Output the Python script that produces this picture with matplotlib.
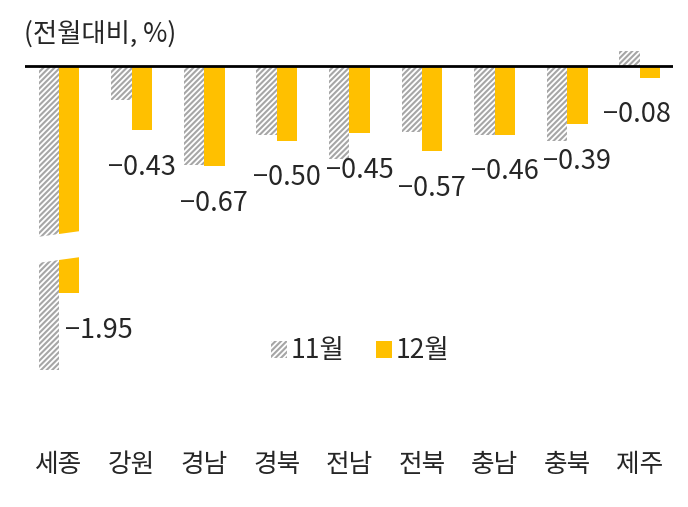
import matplotlib.pyplot as plt
from matplotlib.patches import Patch, Polygon

plt.rcParams['font.family'] = ['Noto Sans CJK KR', 'DejaVu Sans']
plt.rcParams['hatch.linewidth'] = 1.5

regions = ['세종', '강원', '경남', '경북', '전남', '전북', '충남', '충북', '제주']
nov = [-2.46, -0.23, -0.66, -0.46, -0.62, -0.44, -0.46, -0.50, 0.10]
dec = [-1.95, -0.43, -0.67, -0.50, -0.45, -0.57, -0.46, -0.39, -0.08]
series_names = ['11월', '12월']

gray = '#a6a6a6'
gold = '#ffc000'
txt = '#262626'
W, H = 688, 507

fig = plt.figure(figsize=(W / 100, H / 100), dpi=100)

# broken y axis: top part and bottom part, same scale (150 px per 1%p)
top = fig.add_axes([25 / W, 1 - 237 / H, 648 / W, (237 - 45) / H])
low = fig.add_axes([25 / W, 1 - 445 / H, 648 / W, (445 - 257) / H])
top.set_ylim(-1.143, 0.137)
low.set_ylim(-2.963, -1.71)

x = list(range(len(regions)))
bw = 0.28
for ax in (top, low):
    ax.bar([i - bw / 2 for i in x], nov, bw, color='white', edgecolor=gray,
           linewidth=0, hatch='//////')
    ax.bar([i + bw / 2 for i in x], dec, bw, color=gold, linewidth=0)
    ax.set_xlim(-0.468, 8.457)
    for s in ax.spines.values():
        s.set_visible(False)
    ax.set_yticks([])
    ax.tick_params(length=0)
    ax.set_xticks([])

top.axhline(0, color='black', lw=2)

low.set_xticks(x)
low.set_xticklabels(regions, fontsize=18.5, color=txt)
low.tick_params(axis='x', pad=5)

# slanted cut across the 세종 bars
cut = [(30, 238), (88, 230), (88, 256), (30, 264)]
fig.add_artist(Polygon([(a / W, 1 - b / H) for a, b in cut], closed=True,
                       transform=fig.transFigure, facecolor='white',
                       edgecolor='none', zorder=10))

# value labels for 12월
dx = {0: 30, 8: -13}
for i, v in enumerate(dec):
    ax = low if v < top.get_ylim()[0] else top
    ax.annotate(f'{v:.2f}'.replace('-', '\u2212'), (i + bw / 2, v),
                xytext=(dx.get(i, 0), -37), textcoords='offset pixels',
                ha='center', va='center', fontsize=19.5, color=txt)

fig.text(24 / W, 1 - 34 / H, '(전월대비, %)', fontsize=19, color=txt,
         ha='left', va='center')

handles = [Patch(facecolor='white', edgecolor=gray, linewidth=0, hatch='//////'),
           Patch(facecolor=gold, linewidth=0)]
fig.legend(handles, series_names, loc='center', bbox_to_anchor=(360 / W, 1 - 351 / H),
           ncol=2, frameon=False, fontsize=19, handlelength=0.6, handleheight=0.6,
           handletextpad=0.15, columnspacing=1.2, labelcolor=txt)

fig.savefig('out.png', dpi=100)
